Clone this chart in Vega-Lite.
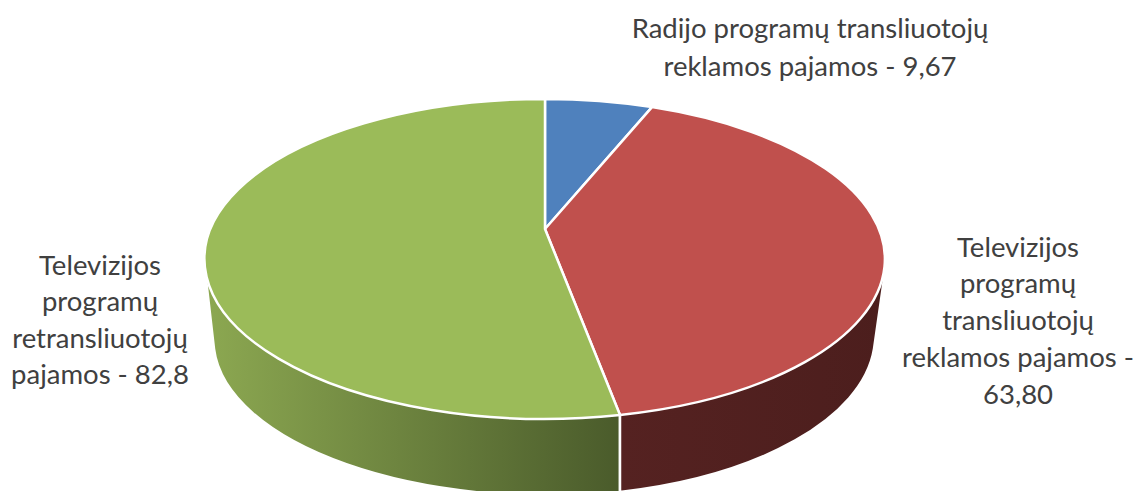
{"$schema":"https://vega.github.io/schema/vega-lite/v6.json","width":1137,"height":491,"padding":0,"autosize":{"type":"none"},"background":"white","view":{"stroke":null},"data":{"values":[{"category":"Radijo","value":9.67,"label":"Radijo programų transliuotojų\nreklamos pajamos - 9,67"},{"category":"TV transliuotojai","value":63.8,"label":"Televizijos\nprogramų\ntransliuotojų\nreklamos pajamos -\n63,80"},{"category":"TV retransliuotojai","value":82.8,"label":"Televizijos\nprogramų\nretransliuotojų\npajamos - 82,8"}]},"encoding":{"x":{"datum":0,"type":"quantitative","scale":{"domain":[-545,592],"nice":false,"zero":false},"axis":null},"y":{"datum":0,"type":"quantitative","scale":{"domain":[-259,232],"reverse":true,"nice":false,"zero":false},"axis":null}},"layer":[{"transform":[{"filter":"datum.category==='TV retransliuotojai'"}],"mark":{"type":"point","filled":true,"opacity":1,"size":40000,"shape":"M-3.39,0.2 L-3.31,0.9 A3.34,1.56 0 0 0 0.75,2.33 L0.75,1.56 Z","fill":{"gradient":"linear","x1":0,"x2":1,"y1":0,"y2":0,"stops":[{"offset":0,"color":"#8ca851"},{"offset":1,"color":"#4a5b2b"}]},"stroke":"white","strokeWidth":2.5}},{"transform":[{"filter":"datum.category==='TV transliuotojai'"}],"mark":{"type":"point","filled":true,"opacity":1,"size":40000,"shape":"M3.39,0.2 L3.29,0.9 A3.32,1.6 0 0 1 0.75,2.33 L0.75,1.56 Z","fill":{"gradient":"linear","x1":0,"x2":1,"y1":0,"y2":0,"stops":[{"offset":0,"color":"#552221"},{"offset":1,"color":"#4c1e1d"}]},"stroke":"white","strokeWidth":2.5}},{"mark":{"type":"point","filled":true,"opacity":1,"size":40000,"stroke":"white","strokeWidth":2.5},"encoding":{"shape":{"field":"category","type":"nominal","legend":null,"scale":{"domain":["Radijo","TV transliuotojai","TV retransliuotojai"],"range":["M0,-0.3 L0,-1.6 A3.4,1.6 0 0 1 1.07,-1.519 Z","M0,-0.3 L1.07,-1.519 A3.4,1.6 0 0 1 0.75,1.56 Z","M0,-0.3 L0.75,1.56 A3.4,1.6 0 1 1 0,-1.6 Z"]}},"color":{"field":"category","type":"nominal","legend":null,"scale":{"domain":["Radijo","TV transliuotojai","TV retransliuotojai"],"range":["#4f81bd","#c0504d","#9bbb59"]}}}},{"transform":[{"filter":"datum.category==='Radijo'"}],"mark":{"type":"text","font":"Lato","fontSize":27.5,"color":"#404040","align":"center","baseline":"middle","lineBreak":"\n","lineHeight":38},"encoding":{"x":{"datum":265,"type":"quantitative"},"y":{"datum":-229,"type":"quantitative"},"text":{"field":"label"}}},{"transform":[{"filter":"datum.category==='TV transliuotojai'"}],"mark":{"type":"text","font":"Lato","fontSize":27.5,"color":"#404040","align":"center","baseline":"middle","lineBreak":"\n","lineHeight":36.8},"encoding":{"x":{"datum":473,"type":"quantitative"},"y":{"datum":-10.5,"type":"quantitative"},"text":{"field":"label"}}},{"transform":[{"filter":"datum.category==='TV retransliuotojai'"}],"mark":{"type":"text","font":"Lato","fontSize":27.5,"color":"#404040","align":"center","baseline":"middle","lineBreak":"\n","lineHeight":36.5},"encoding":{"x":{"datum":-445,"type":"quantitative"},"y":{"datum":7.5,"type":"quantitative"},"text":{"field":"label"}}}]}
